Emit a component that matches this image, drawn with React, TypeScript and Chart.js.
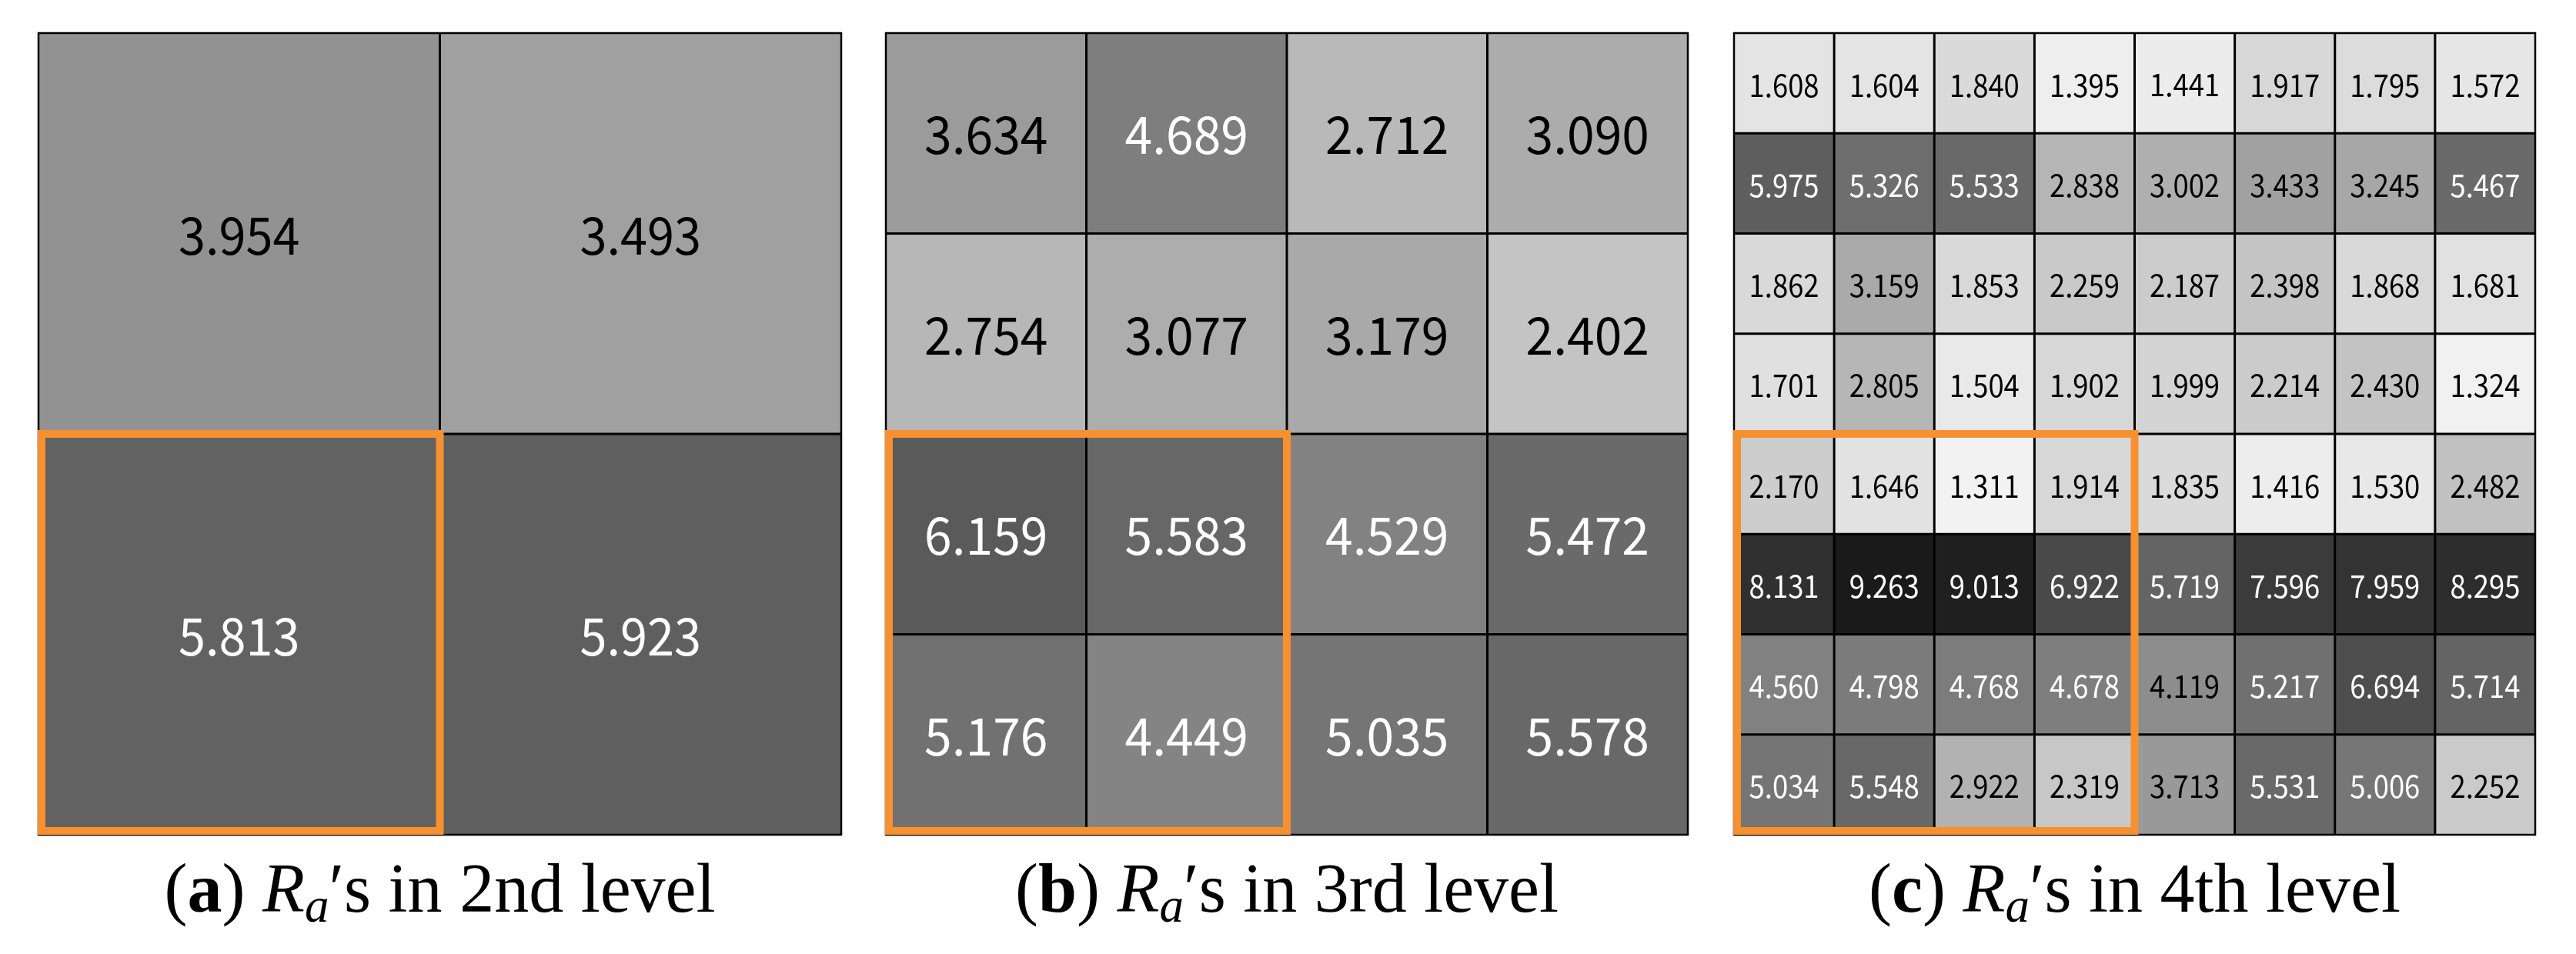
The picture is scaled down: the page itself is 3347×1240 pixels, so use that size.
import React, { useEffect, useRef } from "react";
import { Chart, registerables } from "chart.js";

Chart.register(...registerables);

// ---------- data (rows listed top to bottom) ----------
const LEVEL2_VALUES = [
  [3.954, 3.493],
  [5.813, 5.923],
];
const LEVEL3_VALUES = [
  [3.634, 4.689, 2.712, 3.09],
  [2.754, 3.077, 3.179, 2.402],
  [6.159, 5.583, 4.529, 5.472],
  [5.176, 4.449, 5.035, 5.578],
];
const LEVEL4_VALUES = [
  [1.608, 1.604, 1.84, 1.395, 1.441, 1.917, 1.795, 1.572],
  [5.975, 5.326, 5.533, 2.838, 3.002, 3.433, 3.245, 5.467],
  [1.862, 3.159, 1.853, 2.259, 2.187, 2.398, 1.868, 1.681],
  [1.701, 2.805, 1.504, 1.902, 1.999, 2.214, 2.43, 1.324],
  [2.17, 1.646, 1.311, 1.914, 1.835, 1.416, 1.53, 2.482],
  [8.131, 9.263, 9.013, 6.922, 5.719, 7.596, 7.959, 8.295],
  [4.56, 4.798, 4.768, 4.678, 4.119, 5.217, 6.694, 5.714],
  [5.034, 5.548, 2.922, 2.319, 3.713, 5.531, 5.006, 2.252],
];
// highlighted block: [firstRow, lastRow, firstCol, lastCol]
const LEVEL2_HIGHLIGHT = [1, 1, 0, 0];
const LEVEL3_HIGHLIGHT = [2, 3, 0, 1];
const LEVEL4_HIGHLIGHT = [4, 7, 0, 3];
const PANEL_LETTERS = ["a", "b", "c"];
const PANEL_LEVELS = ["2nd", "3rd", "4th"];

// ---------- layout / style ----------
const PANEL_LEFT = [50, 1151, 2253];
const PANEL_WIDTH = [1043, 1042, 1041];
const PANEL_TOP = 43;
const PANEL_HEIGHT = 1042;
const PAD = 10;
const TEXT_INK_HEIGHT = [50, 50, 30];
const FIRST_TEXT_INK_WIDTH = [155, 158, 87];
const ORANGE = "#F7902F";
const NUM_FONT = '"Noto Sans CJK SC", "Noto Sans", sans-serif';

const ALL_VALUES = [...LEVEL2_VALUES, ...LEVEL3_VALUES, ...LEVEL4_VALUES].flat();
const V_MIN = Math.min(...ALL_VALUES);
const V_MAX = Math.max(...ALL_VALUES);

function grayLevel(v: number): number {
  const t = (Math.sqrt(v) - Math.sqrt(V_MIN)) / (Math.sqrt(V_MAX) - Math.sqrt(V_MIN));
  return Math.round(242 - 216 * t);
}
function grayColor(v: number): string {
  const g = grayLevel(v);
  return `rgb(${g},${g},${g})`;
}
function fmt(v: number): string {
  return v.toFixed(3);
}

const cellPlugin = {
  id: "cellDecor",
  afterDatasetsDraw(chart: any, _args: any, opts: any) {
    const { ctx } = chart;
    const values: number[][] = opts.values;
    const hl: number[] = opts.highlight;
    const n = values.length;
    const yScale = chart.scales.y;
    const meta0 = chart.getDatasetMeta(0);
    const colEdges: number[] = [];
    for (let c = 0; c < n; c++) {
      const el = meta0.data[c];
      colEdges.push(el.x - el.width / 2);
    }
    const lastEl = meta0.data[n - 1];
    colEdges.push(lastEl.x + lastEl.width / 2);
    const rowEdges: number[] = [];
    for (let r = 0; r <= n; r++) rowEdges.push(yScale.getPixelForValue(n - r));

    ctx.save();
    // inner grid lines
    ctx.strokeStyle = "#000";
    ctx.lineWidth = 3;
    ctx.beginPath();
    for (let c = 1; c < n; c++) {
      ctx.moveTo(colEdges[c], rowEdges[0]);
      ctx.lineTo(colEdges[c], rowEdges[n]);
    }
    for (let r = 1; r < n; r++) {
      ctx.moveTo(colEdges[0], rowEdges[r]);
      ctx.lineTo(colEdges[n], rowEdges[r]);
    }
    ctx.stroke();
    // outer border
    ctx.lineWidth = 2.5;
    ctx.strokeRect(colEdges[0], rowEdges[0], colEdges[n] - colEdges[0], rowEdges[n] - rowEdges[0]);

    // highlight box
    let x1 = colEdges[hl[2]];
    let x2 = colEdges[hl[3] + 1];
    let y1 = rowEdges[hl[0]];
    let y2 = rowEdges[hl[1] + 1];
    if (hl[2] === 0) x1 += 4;
    if (hl[3] === n - 1) x2 -= 5;
    if (hl[0] === 0) y1 += 5;
    if (hl[1] === n - 1) y2 -= 5;
    ctx.strokeStyle = ORANGE;
    ctx.lineWidth = 10;
    ctx.lineJoin = "miter";
    ctx.strokeRect(x1, y1, x2 - x1, y2 - y1);

    // numbers
    ctx.font = `100px ${NUM_FONT}`;
    const probe = ctx.measureText("0123456789");
    const probeH = probe.actualBoundingBoxAscent + probe.actualBoundingBoxDescent;
    const size = (100 * opts.inkHeight) / probeH;
    ctx.font = `${size}px ${NUM_FONT}`;
    ctx.textAlign = "center";
    ctx.textBaseline = "alphabetic";
    const first = ctx.measureText(fmt(values[0][0]));
    const firstW = first.actualBoundingBoxLeft + first.actualBoundingBoxRight;
    let sx = opts.firstInkWidth / firstW;
    sx = Math.max(0.75, Math.min(1.2, sx));
    for (let r = 0; r < n; r++) {
      const meta = chart.getDatasetMeta(r);
      for (let c = 0; c < n; c++) {
        const el = meta.data[c];
        const v = values[r][c];
        const s = fmt(v);
        const m = ctx.measureText(s);
        const cx = el.x;
        const cy = (el.y + el.base) / 2;
        const ty = cy + (m.actualBoundingBoxAscent - m.actualBoundingBoxDescent) / 2 + 3;
        ctx.fillStyle = v >= 4.3 ? "#fff" : "#000";
        ctx.save();
        ctx.translate(cx, ty);
        ctx.scale(sx, 1);
        ctx.fillText(s, 0, 0);
        ctx.restore();
      }
    }
    ctx.restore();
  },
};

function Panel({ idx, values, highlight }: { idx: number; values: number[][]; highlight: number[] }) {
  const ref = useRef<HTMLCanvasElement | null>(null);
  useEffect(() => {
    const n = values.length;
    const chart = new Chart(ref.current as HTMLCanvasElement, {
      type: "bar",
      data: {
        labels: values[0].map((_, c) => String(c + 1)),
        datasets: values.map((row, r) => ({
          data: row.map(() => [n - r - 1, n - r]),
          backgroundColor: row.map((v) => grayColor(v)),
          borderWidth: 0,
          grouped: false,
          barPercentage: 1,
          categoryPercentage: 1,
        })) as any,
      },
      options: {
        animation: false,
        responsive: false,
        maintainAspectRatio: false,
        devicePixelRatio: 1,
        events: [],
        layout: { padding: PAD },
        plugins: {
          legend: { display: false },
          tooltip: { enabled: false },
          cellDecor: {
            values,
            highlight,
            inkHeight: TEXT_INK_HEIGHT[idx],
            firstInkWidth: FIRST_TEXT_INK_WIDTH[idx],
          },
        } as any,
        scales: {
          x: { display: false, offset: true, grid: { display: false } },
          y: { display: false, min: 0, max: n, grid: { display: false } },
        },
      },
      plugins: [cellPlugin as any],
    });
    return () => chart.destroy();
  }, [idx, values, highlight]);

  const w = PANEL_WIDTH[idx] + 2 * PAD;
  const h = PANEL_HEIGHT + 2 * PAD;
  return (
    <canvas
      ref={ref}
      width={w}
      height={h}
      style={{ position: "absolute", left: PANEL_LEFT[idx] - PAD, top: PANEL_TOP - PAD, width: w, height: h }}
    />
  );
}

function Caption({ idx }: { idx: number }) {
  const cx = PANEL_LEFT[idx] + PANEL_WIDTH[idx] / 2;
  return (
    <div
      style={{
        position: "absolute",
        left: cx - 700,
        width: 1400,
        top: 1110,
        textAlign: "center",
        fontFamily: '"Liberation Serif", "Times New Roman", serif',
        fontSize: 90,
        lineHeight: "90px",
        whiteSpace: "nowrap",
        color: "#000",
      }}
    >
      (<b>{PANEL_LETTERS[idx]}</b>) <i>R</i>
      <i style={{ fontSize: "0.7em", position: "relative", top: "0.2em" }}>a</i>
      <span>′s in {PANEL_LEVELS[idx]} level</span>
    </div>
  );
}

export default function App() {
  const panels = [
    { values: LEVEL2_VALUES, highlight: LEVEL2_HIGHLIGHT },
    { values: LEVEL3_VALUES, highlight: LEVEL3_HIGHLIGHT },
    { values: LEVEL4_VALUES, highlight: LEVEL4_HIGHLIGHT },
  ];
  return (
    <div style={{ position: "absolute", left: 0, top: 0, width: 3347, height: 1240, background: "#fff", overflow: "hidden" }}>
      {panels.map((p, i) => (
        <Panel key={i} idx={i} values={p.values} highlight={p.highlight} />
      ))}
      {panels.map((_, i) => (
        <Caption key={"c" + i} idx={i} />
      ))}
    </div>
  );
}
